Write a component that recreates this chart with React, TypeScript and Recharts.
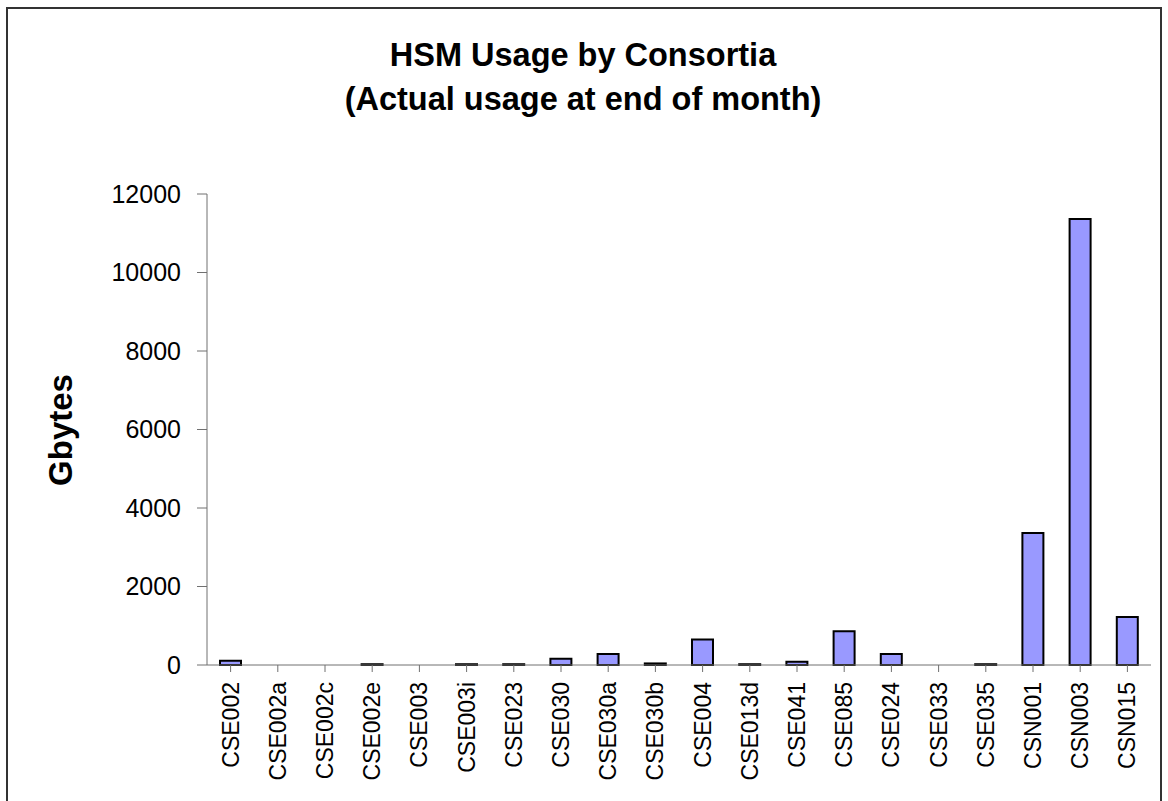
import React from "react";
import { BarChart, Bar, XAxis, YAxis } from "recharts";

const categories = [
  "CSE002",
  "CSE002a",
  "CSE002c",
  "CSE002e",
  "CSE003",
  "CSE003i",
  "CSE023",
  "CSE030",
  "CSE030a",
  "CSE030b",
  "CSE004",
  "CSE013d",
  "CSE041",
  "CSE085",
  "CSE024",
  "CSE033",
  "CSE035",
  "CSN001",
  "CSN003",
  "CSN015",
];

const gbytes = [
  110, 0, 0, 20, 0, 20, 20, 160, 280, 40, 650, 20, 80, 860, 280, 0, 20, 3360,
  11360, 1225,
];

const yTicks = [0, 2000, 4000, 6000, 8000, 10000, 12000];

const data = categories.map((name, i) => ({ name, value: gbytes[i] }));

const FONT = '"Liberation Sans", Arial, sans-serif';

function XTick(props: any) {
  const { x, y, payload } = props;
  return (
    <text
      x={0}
      y={0}
      transform={`translate(${x},${y}) rotate(-90)`}
      textAnchor="end"
      dominantBaseline="central"
      fontSize={23}
      fontFamily={FONT}
      fill="#000"
    >
      {payload.value}
    </text>
  );
}

export default function App() {
  return (
    <div
      style={{
        position: "absolute",
        left: 0,
        top: 0,
        width: 1168,
        height: 801,
        overflow: "hidden",
        background: "#fff",
        fontFamily: FONT,
      }}
    >
      <div
        style={{
          position: "absolute",
          left: 0,
          width: 1166,
          top: 33,
          textAlign: "center",
          fontWeight: "bold",
          fontSize: 32.5,
          lineHeight: "44px",
          color: "#000",
        }}
      >
        HSM Usage by Consortia
        <br />
        (Actual usage at end of month)
      </div>
      <div
        style={{
          position: "absolute",
          left: 61,
          top: 430,
          transform: "translate(-50%, -50%) rotate(-90deg)",
          fontWeight: "bold",
          fontSize: 33,
          whiteSpace: "nowrap",
        }}
      >
        Gbytes
      </div>
      <div style={{ position: "absolute", left: 0, top: 0 }}>
        <BarChart
          width={1168}
          height={801}
          data={data}
          margin={{ top: 194, right: 17, bottom: 0, left: 0 }}
          barSize={21}
        >
          <XAxis
            dataKey="name"
            interval={0}
            height={136}
            tick={<XTick />}
            tickSize={7}
            tickMargin={10}
            stroke="#707070"
            tickLine={{ stroke: "#707070" }}
          />
          <YAxis
            width={207}
            domain={[0, 12000]}
            ticks={yTicks}
            tickSize={10}
            tickMargin={16}
            stroke="#707070"
            tick={{ fontSize: 25, fill: "#000", fontFamily: FONT }}
          />
          <Bar
            dataKey="value"
            fill="#9999FF"
            stroke="#000"
            strokeWidth={2}
            isAnimationActive={false}
          />
        </BarChart>
      </div>
      <div
        style={{
          position: "absolute",
          left: 6,
          top: 7,
          width: 1152,
          height: 820,
          border: "2px solid #333",
          pointerEvents: "none",
        }}
      />
    </div>
  );
}
